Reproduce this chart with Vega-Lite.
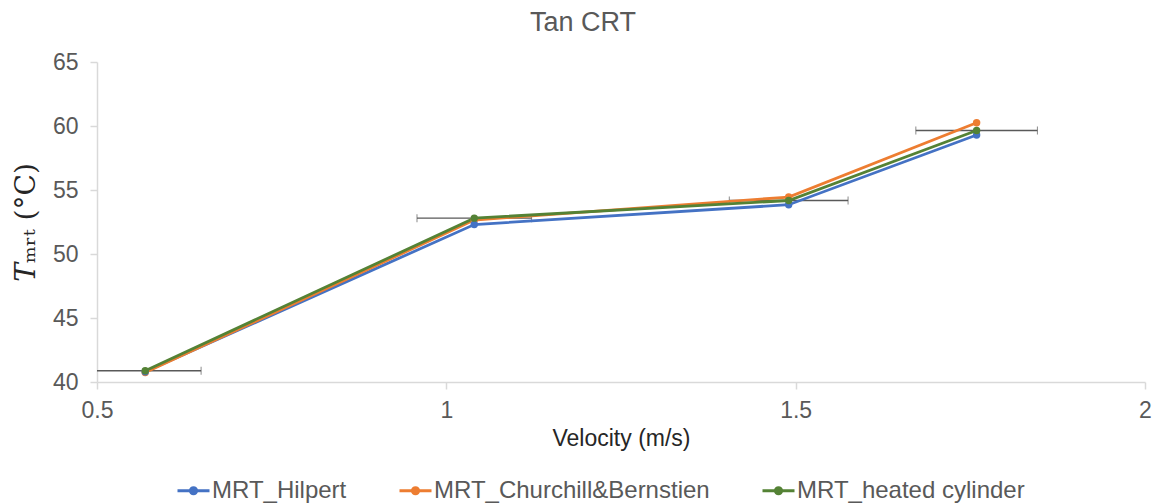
{
  "$schema": "https://vega.github.io/schema/vega-lite/v6.json",
  "width": 1048,
  "height": 320,
  "autosize": {"type": "none"},
  "padding": {"left": 97, "top": 62, "right": 11, "bottom": 122},
  "background": "white",
  "title": {
    "text": "Tan CRT",
    "font": "Liberation Sans",
    "fontSize": 27,
    "fontWeight": "normal",
    "color": "#595959",
    "anchor": "middle",
    "dx": -38,
    "offset": 14
  },
  "datasets": {
    "series": [
      {"model": "MRT_Hilpert", "velocity": 0.569, "tmrt": 40.8},
      {"model": "MRT_Hilpert", "velocity": 1.04, "tmrt": 52.3},
      {"model": "MRT_Hilpert", "velocity": 1.49, "tmrt": 53.85},
      {"model": "MRT_Hilpert", "velocity": 1.759, "tmrt": 59.3},
      {"model": "MRT_Churchill&Bernstien", "velocity": 0.569, "tmrt": 40.74},
      {"model": "MRT_Churchill&Bernstien", "velocity": 1.04, "tmrt": 52.65},
      {"model": "MRT_Churchill&Bernstien", "velocity": 1.49, "tmrt": 54.45},
      {"model": "MRT_Churchill&Bernstien", "velocity": 1.759, "tmrt": 60.25},
      {"model": "MRT_heated cylinder", "velocity": 0.569, "tmrt": 40.88},
      {"model": "MRT_heated cylinder", "velocity": 1.04, "tmrt": 52.8},
      {"model": "MRT_heated cylinder", "velocity": 1.49, "tmrt": 54.18},
      {"model": "MRT_heated cylinder", "velocity": 1.759, "tmrt": 59.65}
    ],
    "velocityError": [
      {"tmrt": 40.88, "vlo": 0.489, "vhi": 0.649},
      {"tmrt": 52.8, "vlo": 0.958, "vhi": 1.122},
      {"tmrt": 54.18, "vlo": 1.405, "vhi": 1.575},
      {"tmrt": 59.65, "vlo": 1.672, "vhi": 1.846}
    ]
  },
  "encoding": {
    "x": {
      "type": "quantitative",
      "scale": {"domain": [0.5, 2], "nice": false, "zero": false},
      "axis": {
        "title": "Velocity (m/s)",
        "values": [0.5, 1, 1.5, 2],
        "format": "~g",
        "grid": false,
        "domainColor": "#d9d9d9",
        "domainWidth": 1.5,
        "tickColor": "#d9d9d9",
        "tickSize": 7,
        "tickWidth": 1.5,
        "labelFont": "Liberation Sans",
        "labelFontSize": 23,
        "labelColor": "#595959",
        "labelPadding": 10,
        "labelFlush": false,
        "titleFont": "Liberation Sans",
        "titleFontSize": 23,
        "titleFontWeight": "normal",
        "titleColor": "#262626",
        "titlePadding": 5
      }
    },
    "y": {
      "type": "quantitative",
      "scale": {"domain": [40, 65], "nice": false, "zero": false},
      "axis": {
        "title": "𝑇ₘᵣₜ (°C)",
        "values": [40, 45, 50, 55, 60, 65],
        "grid": false,
        "domainColor": "#d9d9d9",
        "domainWidth": 1.5,
        "tickColor": "#d9d9d9",
        "tickSize": 7,
        "tickWidth": 1.5,
        "labelFont": "Liberation Sans",
        "labelFontSize": 23,
        "labelColor": "#595959",
        "labelPadding": 12,
        "labelFlush": false,
        "titleFont": "DejaVu Serif",
        "titleFontSize": 28,
        "titleFontWeight": "normal",
        "titleColor": "#262626",
        "titlePadding": 12
      }
    }
  },
  "layer": [
    {
      "data": {"name": "velocityError"},
      "mark": {
        "type": "errorbar",
        "clip": true,
        "ticks": {"size": 8, "color": "#595959", "strokeWidth": 1.3},
        "rule": {"color": "#595959", "strokeWidth": 1.3}
      },
      "encoding": {
        "x": {"field": "vlo", "type": "quantitative"},
        "x2": {"field": "vhi"},
        "y": {"field": "tmrt", "type": "quantitative"}
      }
    },
    {
      "data": {"name": "series"},
      "mark": {
        "type": "line",
        "strokeWidth": 2.8,
        "point": {"filled": true, "size": 55}
      },
      "encoding": {
        "x": {"field": "velocity", "type": "quantitative"},
        "y": {"field": "tmrt", "type": "quantitative"},
        "color": {
          "field": "model",
          "type": "nominal",
          "sort": ["MRT_Hilpert", "MRT_Churchill&Bernstien", "MRT_heated cylinder"],
          "scale": {
            "domain": ["MRT_Hilpert", "MRT_Churchill&Bernstien", "MRT_heated cylinder"],
            "range": ["#4472c4", "#ed7d31", "#548235"]
          },
          "legend": {
            "title": null,
            "orient": "none",
            "direction": "horizontal",
            "legendX": 79,
            "legendY": 411,
            "columnPadding": 46,
            "symbolType": "M-1,0L1,0M0.2,0A0.2,0.2 0 1,1 -0.2,0A0.2,0.2 0 1,1 0.2,0",
            "symbolSize": 1024,
            "symbolStrokeWidth": 2.8,
            "labelFont": "Liberation Sans",
            "labelFontSize": 24,
            "labelColor": "#595959",
            "labelLimit": 400,
            "labelOffset": 1
          }
        },
        "order": {"field": "model", "sort": "ascending"}
      }
    }
  ],
  "config": {
    "view": {"stroke": null},
    "axis": {"labelBound": false}
  }
}
